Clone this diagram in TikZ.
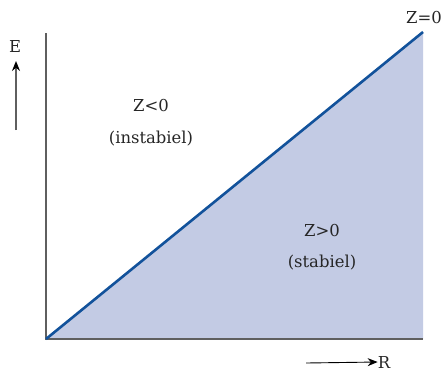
\documentclass[tikz,border=0pt]{standalone}
\usepackage{tikz}
\usepackage{fontspec}
\setmainfont{DejaVu Serif}
\usetikzlibrary{arrows.meta}
\definecolor{stabfill}{RGB}{195,203,228}
\definecolor{zline}{RGB}{18,82,155}
\definecolor{axgray}{RGB}{95,95,95}

\begin{document}
\begin{tikzpicture}[x=1bp,y=-1bp,
	lbl/.style={font=\fontsize{16.5}{19}\selectfont, inner sep=0pt, text=black!85},
	ax/.style={draw=axgray, line width=1.4bp}]
		\useasboundingbox (0,0) rectangle (445,371);
		\coordinate (O) at (46,339);
		\coordinate (Etop) at (46,33);
		\coordinate (Rend) at (423,339);
		\coordinate (T) at (423,32);
		% stabiel gebied
		\fill[stabfill] (O) -- (T) -- (Rend) -- cycle;
		\draw[ax] (Etop) -- (O) -- (Rend);
		\draw[zline, line width=2.6bp] (O) -- (T);
		% assen
		\node[lbl] (E) at (15,47) {E};
		\coordinate (Ebot) at (16,130);
		\draw[axgray, line width=1.3bp, -{Stealth[length=10bp,width=8bp,black]}] (Ebot) -- (16,61);
		\node[lbl] (R) at (384,362) {R};
		\coordinate (Rbot) at (306,363);
		\draw[black, line width=0.9bp, -{Stealth[length=10bp,width=8bp]}] (Rbot) -- (R.west);
		% labels
		\node[lbl] (z0) at (424,18) {Z{=}0};
		\node[lbl] (zneg) at (151,106) {Z{<}0};
		\node[lbl] (inst) at (151,139) {(instabiel)};
		\node[lbl] (zpos) at (322,231) {Z{>}0};
		\node[lbl] (stab) at (322,263) {(stabiel)};
	\end{tikzpicture}
\end{document}
